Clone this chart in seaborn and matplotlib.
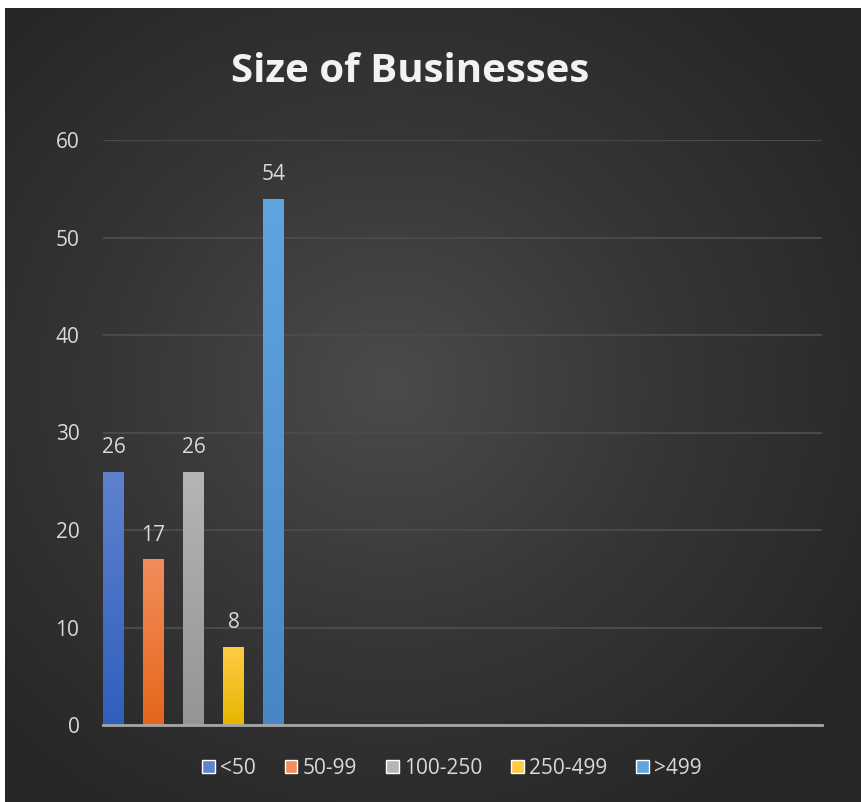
import matplotlib
matplotlib.use("Agg")
import matplotlib.pyplot as plt
import matplotlib.colors as mcolors
import numpy as np
import pandas as pd
import seaborn as sns

# data
sizes = ["<50", "50-99", "100-250", "250-499", ">499"]
counts = [26, 17, 26, 8, 54]
tops = ["#5F82CE", "#F28D5C", "#B5B5B5", "#FFCB45", "#5FA4E0"]
bottoms = ["#2F5FBD", "#E5661A", "#959595", "#E6B600", "#4787C5"]

df = pd.DataFrame({"cat": [""] * len(sizes), "size": sizes, "count": counts})

sns.set_style("white")
plt.rcParams["font.family"] = ["Open Sans", "DejaVu Sans"]

fig = plt.figure(figsize=(8.61, 8.02), dpi=100, facecolor="white")

# dark radial background
bg = fig.add_axes([5 / 861, 0, 1 - 5 / 861, 1 - 8 / 802])
yy, xx = np.mgrid[-1:1:400j, -1:1:400j]
r = np.sqrt((xx + 0.1) ** 2 + (yy + 0.05) ** 2)
bgcmap = mcolors.LinearSegmentedColormap.from_list("bg", ["#4B4B4B", "#363636", "#262626"])
bg.imshow(r, cmap=bgcmap, aspect="auto", extent=[0, 1, 0, 1], vmin=0, vmax=1.3)
bg.set_axis_off()

ax = fig.add_axes([103 / 861, 77 / 802, 719 / 861, 585 / 802])
ax.set_facecolor("none")
sns.barplot(data=df, x="cat", y="count", hue="size", hue_order=sizes,
            palette=bottoms, width=0.8, gap=0.475, ax=ax, legend=False,
            linewidth=0, edgecolor="none")

# gradient fill clipped to each bar
for i, p in enumerate(ax.patches[:len(sizes)]):
    x0, y0 = p.get_x(), p.get_y()
    w, h = p.get_width(), p.get_height()
    cm = mcolors.LinearSegmentedColormap.from_list("g%d" % i, [bottoms[i], tops[i]])
    grad = np.linspace(0, 1, 100).reshape(-1, 1)
    im = ax.imshow(grad, cmap=cm, origin="lower", aspect="auto",
                   extent=[x0, x0 + w, y0, y0 + h], zorder=3)
    im.set_clip_path(p)
    ax.text(x0 + w / 2, h + 1.4, str(counts[i]), ha="center", va="bottom",
            color="#D9D9D9", fontsize=15)

ax.set_xlim(-0.362, -0.362 + 719 / 250)
ax.set_ylim(0, 60)
ax.set_yticks(range(0, 61, 10))
ax.set_xticks([])
ax.set_xlabel("")
ax.set_ylabel("")
ax.tick_params(axis="y", colors="#D9D9D9", labelsize=15, length=0, pad=17)
for s in ["top", "right", "left"]:
    ax.spines[s].set_visible(False)
ax.spines["bottom"].set_color("#A6A6A6")
ax.spines["bottom"].set_linewidth(2)
ax.spines["bottom"].set_zorder(5)
ax.grid(axis="y", color="#4A4A4A", linewidth=1.5)
ax.set_axisbelow(True)

fig.text(410 / 861, 1 - 71 / 802, "Size of Businesses", ha="center", va="center",
         color="#F2F2F2", fontsize=29, fontweight="bold")

handles = [plt.Rectangle((0, 0), 1, 1, facecolor=tops[i]) for i in range(len(sizes))]
fig.legend(handles, sizes, loc="center", bbox_to_anchor=(452 / 861, 1 - 768 / 802),
           ncol=5, frameon=False, fontsize=15, labelcolor="#D9D9D9",
           handlelength=0.6, handleheight=0.6, handletextpad=0.25, columnspacing=1.4)

fig.savefig("out.png", dpi=100, facecolor="white")
